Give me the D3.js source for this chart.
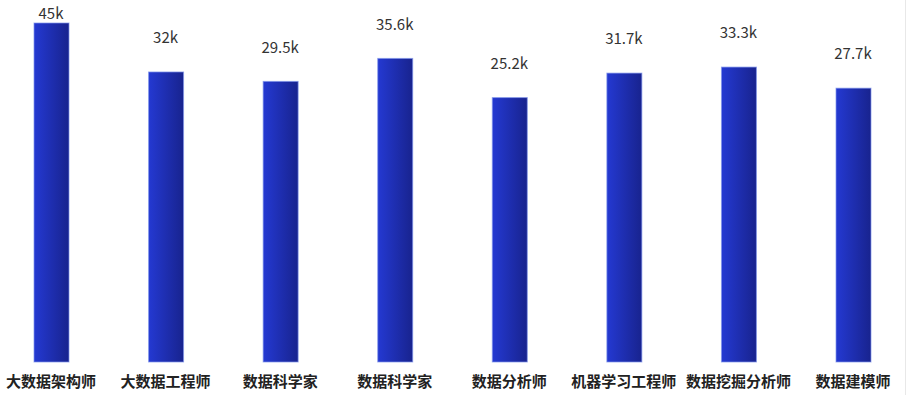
<!DOCTYPE html>
<html>
<head>
<meta charset="utf-8">
<script src="https://cdn.jsdelivr.net/npm/d3@7/dist/d3.min.js"></script>
<style>
  html, body { margin: 0; padding: 0; background: #fff; }
  svg { display: block; }
</style>
</head>
<body>
<svg id="chart" width="908" height="395"></svg>
<script>
const categories = ["大数据架构师", "大数据工程师", "数据科学家", "数据科学家", "数据分析师", "机器学习工程师", "数据挖掘分析师", "数据建模师"];
const salaries = [45, 32, 29.5, 35.6, 25.2, 31.7, 33.3, 27.7];
const salaryLabels = ["45k", "32k", "29.5k", "35.6k", "25.2k", "31.7k", "33.3k", "27.7k"];

const W = 908, H = 395;
const baseY = 362;
const barW = 35;
const font = "'Noto Sans CJK SC', 'Noto Sans', sans-serif";

const svg = d3.select("#chart");

const defs = svg.append("defs");
const grad = defs.append("linearGradient").attr("id", "barGrad")
  .attr("x1", "0%").attr("y1", "0%").attr("x2", "100%").attr("y2", "0%");
grad.append("stop").attr("offset", "0%").attr("stop-color", "#2439d2");
grad.append("stop").attr("offset", "100%").attr("stop-color", "#18238e");

const x = d3.scalePoint().domain(d3.range(categories.length)).range([51, 853]);
const y = d3.scaleLinear().domain([-45, 45]).range([baseY, 23]);

const data = categories.map((c, i) => ({ c, v: salaries[i], label: salaryLabels[i], i }));

svg.append("g").selectAll("rect").data(data).join("rect")
  .attr("x", d => x(d.i) - barW / 2 + 0.5)
  .attr("y", d => y(d.v))
  .attr("width", barW)
  .attr("height", d => baseY - y(d.v))
  .attr("fill", "url(#barGrad)")
  .attr("stroke", "rgba(130,150,235,0.7)")
  .attr("stroke-width", 1);

svg.append("g").selectAll("text").data(data).join("text")
  .attr("x", d => x(d.i))
  .attr("y", d => Math.max(y(d.v) - 34, 14))
  .attr("dy", "0.35em")
  .attr("text-anchor", "middle")
  .attr("font-family", font)
  .attr("font-size", 15)
  .attr("fill", "#333")
  .text(d => d.label);

svg.append("g").selectAll("text").data(data).join("text")
  .attr("x", d => x(d.i))
  .attr("y", 382)
  .attr("dy", "0.35em")
  .attr("text-anchor", "middle")
  .attr("font-family", font)
  .attr("font-size", 15)
  .attr("font-weight", "bold")
  .attr("fill", "#222")
  .text(d => d.c);

svg.append("line")
  .attr("x1", 905.5).attr("x2", 905.5).attr("y1", 0).attr("y2", H)
  .attr("stroke", "#e8e8e8").attr("stroke-width", 1);
</script>
</body>
</html>
